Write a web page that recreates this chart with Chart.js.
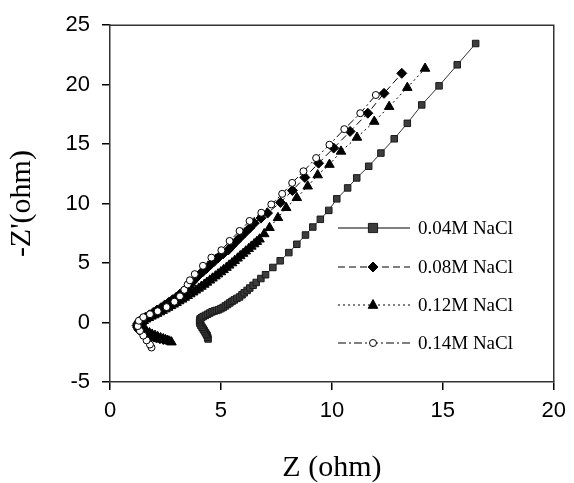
<!DOCTYPE html>
<html>
<head>
<meta charset="utf-8">
<script src="https://cdn.jsdelivr.net/npm/chart.js@4/dist/chart.umd.min.js"></script>
<style>
html,body{margin:0;padding:0;background:#fff;}
#wrap{width:574px;height:483px;}
</style>
</head>
<body>
<div id="wrap"><canvas id="c" width="574" height="483"></canvas></div>
<script>
// ---- data ----
const seriesLabels = ["0.04M NaCl", "0.08M NaCl", "0.12M NaCl", "0.14M NaCl"];

const z04 = [4.42,4.4,4.38,4.34,4.3,4.25,4.2,4.15,4.1,4.06,4.04,4.05,4.06,4.12,4.2,4.3,4.4,4.5,4.6,4.7,4.8,4.9,5.0,5.1,5.2,5.3,5.4,5.5,5.6,5.72,5.84,5.95,6.05,6.18,6.3,6.45,6.59,6.8,7.01,7.34,7.67,8.06,8.42,8.81,9.14,9.48,9.86,10.22,10.71,11.12,11.66,12.21,12.81,13.4,14.05,14.83,15.65,16.48];
const zi04 = [-1.38,-1.24,-1.1,-0.98,-0.85,-0.7,-0.55,-0.4,-0.25,-0.1,0.05,0.18,0.3,0.4,0.5,0.6,0.7,0.8,0.9,0.97,1.02,1.08,1.17,1.27,1.4,1.52,1.65,1.78,1.9,2.03,2.15,2.33,2.5,2.7,2.9,3.13,3.37,3.7,4.02,4.63,5.19,5.88,6.58,7.36,8.03,8.68,9.43,10.4,11.32,12.16,13.14,14.25,15.45,16.75,18.3,19.9,21.67,23.46];

const z08 = [2.4,2.25,2.1,1.98,1.85,1.7,1.55,1.42,1.3,1.25,1.22,1.26,1.32,1.45,1.6,1.78,1.95,2.12,2.3,2.47,2.65,2.82,3.0,3.16,3.32,3.46,3.6,3.72,3.85,4.0,4.17,4.35,4.52,4.7,4.88,5.1,5.33,5.5,5.68,5.88,6.08,6.3,6.5,6.8,7.1,7.68,8.22,8.78,9.4,10.08,10.82,11.62,12.35,13.15];
const zi08 = [-1.42,-1.36,-1.3,-1.22,-1.15,-1.03,-0.9,-0.75,-0.6,-0.42,-0.25,-0.08,0.1,0.28,0.45,0.65,0.85,1.05,1.25,1.48,1.7,1.92,2.15,2.4,2.65,2.9,3.15,3.42,3.7,3.98,4.25,4.55,4.85,5.15,5.45,5.78,6.1,6.45,6.8,7.18,7.55,7.95,8.35,8.78,9.2,10.1,11.1,12.2,13.4,14.67,16.07,17.6,19.27,20.95];

const z12 = [2.77,2.68,2.6,2.5,2.4,2.28,2.15,2.03,1.9,1.78,1.65,1.55,1.45,1.4,1.38,1.44,1.52,1.63,1.75,1.87,2.0,2.12,2.25,2.37,2.5,2.62,2.75,2.87,3.0,3.12,3.25,3.37,3.5,3.62,3.75,3.87,4.0,4.12,4.25,4.37,4.5,4.62,4.75,4.87,5.0,5.12,5.25,5.37,5.5,5.62,5.75,5.87,6.0,6.12,6.25,6.37,6.5,6.62,6.74,6.95,7.19,7.57,7.94,8.42,8.91,9.36,9.89,10.41,11.13,11.91,12.58,13.4,14.2];
const zi12 = [-1.65,-1.58,-1.52,-1.45,-1.38,-1.3,-1.2,-1.1,-1.0,-0.88,-0.75,-0.6,-0.45,-0.3,-0.15,0.0,0.15,0.28,0.4,0.52,0.63,0.75,0.88,1.0,1.13,1.26,1.4,1.53,1.67,1.81,1.95,2.1,2.25,2.4,2.55,2.71,2.87,3.03,3.2,3.37,3.55,3.72,3.9,4.07,4.25,4.43,4.62,4.81,5.0,5.2,5.4,5.6,5.8,6.0,6.2,6.4,6.6,6.8,7.0,7.45,7.97,8.81,9.65,10.49,11.46,12.4,13.28,14.39,15.56,16.9,18.15,19.75,21.36];

const z14 = [1.87,1.8,1.65,1.5,1.35,1.25,1.3,1.5,1.8,2.15,2.55,2.9,3.15,3.35,3.5,3.6,3.82,4.19,4.57,5.02,5.39,5.84,6.29,6.82,7.27,7.76,8.21,8.72,9.29,9.89,10.56,11.28,11.98];
const zi14 = [-2.1,-1.85,-1.5,-1.1,-0.7,-0.3,0.15,0.45,0.7,0.95,1.3,1.75,2.2,2.75,3.2,3.55,4.07,4.77,5.46,6.08,6.86,7.7,8.54,9.23,9.93,10.82,11.74,12.72,13.83,14.95,16.26,17.6,19.13];

const xTicks = [0, 5, 10, 15, 20];
const yTicks = [-5, 0, 5, 10, 15, 20, 25];
const xTitle = "Z (ohm)";
const yTitle = "-Z'(ohm)";

function pts(xs, ys){ return xs.map((x,i)=>({x:x, y:ys[i]})); }

const styles = [
  {pointStyle:'rect', radius:4.6, fill:'#3d3d3d', stroke:'#1a1a1a', dash:[], lineColor:'#333'},
  {pointStyle:'rectRot', radius:5, fill:'#000', stroke:'#000', dash:[7,4], lineColor:'#000'},
  {pointStyle:'triangle', radius:5.5, fill:'#000', stroke:'#000', dash:[2,3], lineColor:'#000'},
  {pointStyle:'circle', radius:3.5, fill:'#fff', stroke:'#000', dash:[8,3,2,3], lineColor:'#000'}
];
const allData = [pts(z04,zi04), pts(z08,zi08), pts(z12,zi12), pts(z14,zi14)];
const orders = [3, 2, 1, 0];

const datasets = seriesLabels.map((lab,i)=>({
  label: lab,
  data: allData[i],
  showLine: true,
  borderColor: styles[i].lineColor,
  borderWidth: 1,
  borderDash: styles[i].dash,
  pointStyle: styles[i].pointStyle,
  pointRadius: styles[i].radius,
  pointBackgroundColor: styles[i].fill,
  pointBorderColor: styles[i].stroke,
  pointBorderWidth: 1,
  order: orders[i],
  tension: 0
}));

const framePlugin = {
  id: 'frame',
  afterDatasetsDraw(chart){
    const {ctx, chartArea:a} = chart;
    ctx.save();
    ctx.strokeStyle = '#333';
    ctx.lineWidth = 1.5;
    ctx.beginPath();
    ctx.moveTo(a.left, a.top); ctx.lineTo(a.right, a.top); ctx.lineTo(a.right, a.bottom);
    ctx.stroke();
    ctx.restore();
  }
};

const legendPlugin = {
  id: 'insideLegend',
  afterDraw(chart){
    const ctx = chart.ctx;
    const rowsY = [228, 267, 305, 343];
    const x0 = 338, x1 = 410, xm = 373, xt = 418;
    ctx.save();
    chart.data.datasets.forEach((ds, i)=>{
      const st = styles[i];
      const y = rowsY[i];
      ctx.strokeStyle = '#000';
      ctx.lineWidth = 1;
      ctx.setLineDash(st.dash);
      ctx.beginPath(); ctx.moveTo(x0, y); ctx.lineTo(x1, y); ctx.stroke();
      ctx.setLineDash([]);
      ctx.fillStyle = st.fill; ctx.strokeStyle = st.stroke;
      ctx.beginPath();
      const r = st.radius;
      if (st.pointStyle === 'rect') { ctx.rect(xm-r, y-r, 2*r, 2*r); }
      else if (st.pointStyle === 'rectRot') { ctx.moveTo(xm, y-r); ctx.lineTo(xm+r, y); ctx.lineTo(xm, y+r); ctx.lineTo(xm-r, y); ctx.closePath(); }
      else if (st.pointStyle === 'triangle') { ctx.moveTo(xm, y-r); ctx.lineTo(xm+r*0.87, y+r*0.6); ctx.lineTo(xm-r*0.87, y+r*0.6); ctx.closePath(); }
      else { ctx.arc(xm, y, r, 0, Math.PI*2); }
      ctx.fill(); ctx.stroke();
      ctx.fillStyle = '#000';
      ctx.font = '19px "Liberation Serif", "Times New Roman", serif';
      ctx.textBaseline = 'middle';
      ctx.textAlign = 'left';
      ctx.fillText(ds.label, xt, y+1);
    });
    ctx.restore();
  }
};

new Chart(document.getElementById('c'), {
  type: 'scatter',
  data: { datasets },
  plugins: [framePlugin, legendPlugin],
  options: {
    responsive: false,
    animation: false,
    devicePixelRatio: 1,
    layout: { padding: { top: 23, right: 18, left: 0, bottom: 0 } },
    plugins: { legend: { display: false }, tooltip: { enabled: false } },
    scales: {
      x: {
        type: 'linear', min: 0, max: 20,
        afterBuildTicks(s){ s.ticks = xTicks.map(v=>({value:v})); },
        afterFit(s){ s.height = 101; },
        grid: { drawOnChartArea: false, drawTicks: true, tickLength: 8, color: '#000', lineWidth: 1.5 },
        border: { display: true, color: '#333', width: 1.5 },
        ticks: { color: '#000', font: { family: '"Liberation Sans", Arial, sans-serif', size: 22 }, padding: 8, maxRotation: 0 },
        title: { display: true, text: xTitle, color: '#000', font: { family: '"Liberation Serif", "Times New Roman", serif', size: 30, lineHeight: 1.0 }, padding: { top: 0, bottom: 0 } }
      },
      y: {
        type: 'linear', min: -5, max: 25,
        afterBuildTicks(s){ s.ticks = yTicks.map(v=>({value:v})); },
        afterFit(s){ s.width = 110; },
        grid: { drawOnChartArea: false, drawTicks: true, tickLength: 8, color: '#000', lineWidth: 1.5 },
        border: { display: true, color: '#333', width: 1.5 },
        ticks: { color: '#000', font: { family: '"Liberation Sans", Arial, sans-serif', size: 22 }, padding: 12 },
        title: { display: true, text: yTitle, color: '#000', font: { family: '"Liberation Serif", "Times New Roman", serif', size: 30, lineHeight: 1.0 }, padding: { top: 7, bottom: 0 } }
      }
    }
  }
});
</script>
</body>
</html>
